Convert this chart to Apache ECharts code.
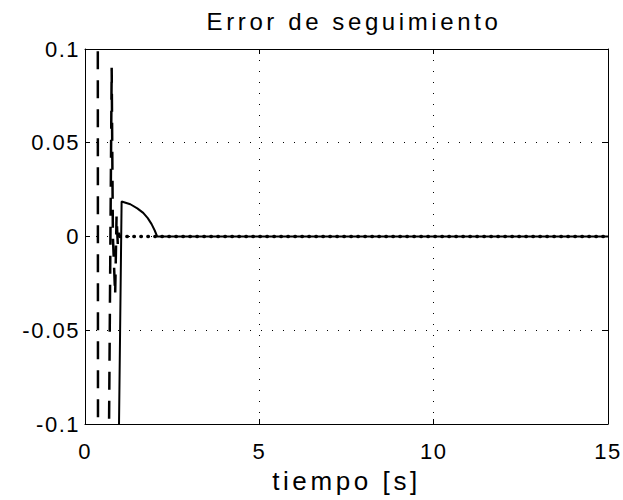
<!DOCTYPE html>
<html>
<head>
<meta charset="utf-8">
<script src="https://cdn.jsdelivr.net/npm/echarts@6/dist/echarts.min.js"></script>
<style>
  html, body { margin: 0; padding: 0; background: #fff; }
  #chart { width: 623px; height: 500px; }
</style>
</head>
<body>
<div id="chart"></div>
<script>
// Axis settings
const xTicks = [0, 5, 10, 15];
const yTicks = [-0.1, -0.05, 0, 0.05, 0.1];

// Controller with long-dash trace: fast swing, overshoot, damped oscillation
const dashT = [0, 0.33, 0.37, 0.41, 0.55, 0.62, 0.69, 0.765, 0.80, 0.865, 0.905, 0.94, 0.97, 1.0];
const dashV = [1.8, 1.6, 0, -1.6, -0.6, -0.3, -0.1, 0.09, 0.0, -0.031, 0.011, -0.004, 0.002, 0];

// Controller with solid trace: large negative error, jump, smooth decay to zero
const solidT = [0, 0.85, 1.05, 1.3, 1.5, 1.67, 1.8, 1.91, 2.0, 2.07, 15];
const solidV = [-1.0, -0.3, 0.0187, 0.0172, 0.015, 0.0126, 0.0098, 0.0066, 0.0032, 0, 0];

// Controller with dotted trace: settled at zero
const dotT = [1.0, 15];
const dotV = [0, 0];

const zip = (t, v) => t.map((x, i) => [x, v[i]]);

const el = document.getElementById('chart');
const chart = echarts.init(el, null, { renderer: 'svg' });

const font = '"Liberation Sans", Arial, sans-serif';

const baseX = {
  type: 'value',
  min: xTicks[0],
  max: xTicks[xTicks.length - 1],
  interval: 5,
  axisLine: { show: true, onZero: false, lineStyle: { color: '#000', width: 1 } },
  axisTick: { show: true, inside: true, length: 5, lineStyle: { color: '#000' } },
  splitLine: { show: false }
};
const baseY = {
  type: 'value',
  min: yTicks[0],
  max: yTicks[yTicks.length - 1],
  interval: 0.05,
  axisLine: { show: true, onZero: false, lineStyle: { color: '#000', width: 1 } },
  axisTick: { show: true, inside: true, length: 5, lineStyle: { color: '#000' } },
  splitLine: { show: false }
};

chart.setOption({
  animation: false,
  backgroundColor: '#fff',
  title: {
    text: 'Error de seguimiento',
    left: 349,
    textAlign: 'center',
    top: 4,
    textStyle: { fontFamily: font, fontSize: 24, fontWeight: 'normal', color: '#000' }
  },
  grid: { left: 85, right: 15, top: 49, bottom: 76, containLabel: false, outerBoundsMode: 'none' },
  xAxis: [
    Object.assign({}, baseX, {
      position: 'bottom',
      name: 'tiempo [s]',
      nameLocation: 'middle',
      nameGap: 44,
      nameTextStyle: { fontFamily: font, fontSize: 26, color: '#000' },
      axisLabel: { show: true, margin: 16, fontFamily: font, fontSize: 22, color: '#000' },
      splitLine: { show: true, lineStyle: { color: '#000', width: 1, type: [1, 10] } }
    }),
    Object.assign({}, baseX, { position: 'top', axisLabel: { show: false } })
  ],
  yAxis: [
    Object.assign({}, baseY, {
      position: 'left',
      axisLabel: { show: true, margin: 5, fontFamily: font, fontSize: 22, color: '#000' },
      splitLine: { show: true, lineStyle: { color: '#000', width: 1, type: [1, 10] } }
    }),
    Object.assign({}, baseY, { position: 'right', axisLabel: { show: false } })
  ],
  series: [
    {
      type: 'line',
      data: zip(dotT, dotV),
      showSymbol: false,
      clip: true,
      lineStyle: { color: '#000', width: 3.5, type: [0.5, 6.5], cap: 'round' }
    },
    {
      type: 'line',
      data: zip(dashT, dashV),
      showSymbol: false,
      clip: true,
      lineStyle: { color: '#000', width: 2.5, type: [18, 11] }
    },
    {
      type: 'line',
      data: zip(solidT, solidV),
      showSymbol: false,
      clip: true,
      lineStyle: { color: '#000', width: 2 }
    }
  ]
});

// Wide tracking, scaled with the text size
function spaceText() {
  el.querySelectorAll('text').forEach(t => {
    const fs = parseFloat(getComputedStyle(t).fontSize) || 20;
    t.style.letterSpacing = (fs >= 24 ? 3.6 : 1.5) + 'px';
  });
}
spaceText();
chart.on('finished', spaceText);
</script>
</body>
</html>
